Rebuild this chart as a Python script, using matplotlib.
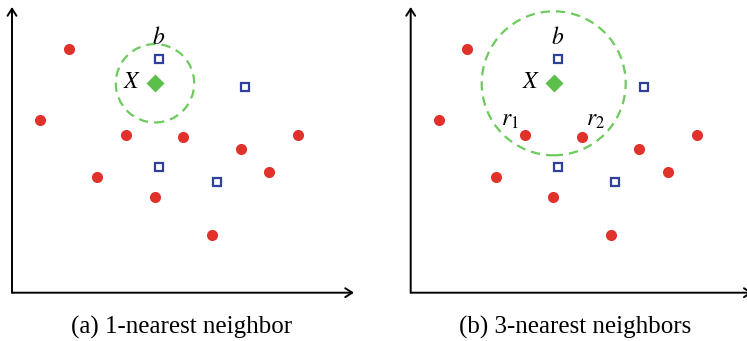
import matplotlib
matplotlib.use("Agg")
import matplotlib.pyplot as plt
from matplotlib.patches import Circle

plt.rcParams["mathtext.fontset"] = "stix"
plt.rcParams["font.family"] = ["Liberation Serif", "DejaVu Serif"]

# Feature-space samples shared by both panels
red_x = [56.7, 28.0, 114.0, 171.3, 228.7, 286.3, 85.3, 257.3, 142.7, 200.0]
red_y = [244.0, 172.7, 158.0, 155.4, 144.0, 158.0, 115.4, 121.0, 95.4, 58.0]
blue_x = [147.3, 233.0, 147.3, 204.7]
blue_y = [234.0, 205.4, 125.4, 111.0]
query_x, query_y = 143.0, 209.4
radii = [39.2, 72.0]
captions = ["(a) 1-nearest neighbor", "(b) 3-nearest neighbors"]

W, H = 747, 341
fig = plt.figure(figsize=(W / 100, H / 100), dpi=100)

x_len, y_len = 342.0, 285.7
panel_left = [12.0, 410.7]
origin_y = 292.7
caption_x = [181.5, 575.0]

red_c = "#e0312b"
blue_c = "#2f3f9c"
green_c = "#5cbf4c"
ring_c = "#6ccb5c"

for i in range(2):
    ax = fig.add_axes([panel_left[i] / W, (H - origin_y) / H, x_len / W, y_len / H])
    ax.set_xlim(0, x_len)
    ax.set_ylim(0, y_len)
    ax.axis("off")

    # axis arrows
    arrow = dict(arrowstyle="->,head_length=0.5,head_width=0.32", lw=1.4,
                 color="black", shrinkA=0, shrinkB=0)
    ax.annotate("", xy=(x_len, 0), xytext=(0, 0), arrowprops=arrow,
                annotation_clip=False)
    ax.annotate("", xy=(0, y_len), xytext=(0, 0), arrowprops=arrow,
                annotation_clip=False)

    ax.add_patch(Circle((query_x, query_y), radii[i], fill=False,
                        edgecolor=ring_c, lw=1.6, linestyle=(0, (4.2, 2.7)),
                        zorder=2))

    ax.plot(red_x, red_y, "o", ms=8.0, color=red_c, mec="none", zorder=3,
            clip_on=False)
    ax.plot(blue_x, blue_y, "s", ms=6.0, mfc="white", mec=blue_c, mew=1.6,
            zorder=3, clip_on=False)
    ax.plot([query_x], [query_y], "D", ms=9.4, color=green_c, mec="none",
            zorder=4)

    ax.text(147.0, 255.0, "$b$", fontsize=17, ha="center", va="center")
    ax.text(120.0, 209.7, "$X$", fontsize=17, ha="center", va="center")
    if i == 1:
        ax.text(99.3, 172.0, "$r_1$", fontsize=17, ha="center", va="center")
        ax.text(185.3, 172.0, "$r_2$", fontsize=17, ha="center", va="center")

    fig.text(caption_x[i] / W, (H - 327) / H, captions[i], fontsize=18,
             ha="center", va="center")

fig.savefig("out.png", dpi=100)
